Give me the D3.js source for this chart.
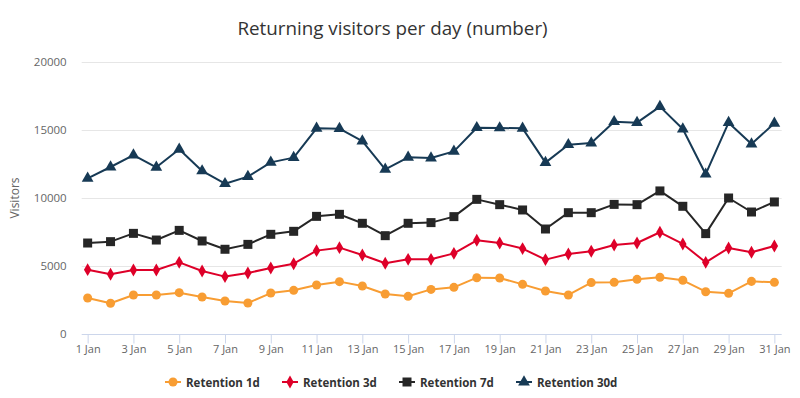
<!DOCTYPE html>
<html>
<head>
<meta charset="utf-8">
<script src="https://cdn.jsdelivr.net/npm/d3@7"></script>
<style>
  body { margin: 0; background: #fff; }
  svg { font-family: "Open Sans", "DejaVu Sans", sans-serif; }
</style>
</head>
<body>
<div id="chart"></div>
<script>
const days = d3.range(1, 32);
const tickDays = d3.range(1, 32, 2);
const yTicks = [0, 5000, 10000, 15000, 20000];

const retention1d = [2650, 2260, 2870, 2870, 3040, 2720, 2430, 2280, 3010, 3210,
  3600, 3850, 3530, 2940, 2770, 3280, 3430, 4140, 4120, 3650,
  3160, 2870, 3780, 3800, 4020, 4170, 3950, 3110, 2990, 3870, 3800];
const retention3d = [4730, 4390, 4710, 4710, 5270, 4630, 4220, 4490, 4850, 5170,
  6130, 6350, 5810, 5200, 5490, 5490, 5930, 6890, 6690, 6280,
  5470, 5880, 6080, 6540, 6690, 7480, 6620, 5270, 6320, 6010, 6470];
const retention7d = [6690, 6790, 7400, 6910, 7620, 6840, 6230, 6590, 7330, 7550,
  8650, 8800, 8140, 7230, 8140, 8190, 8630, 9900, 9510, 9120,
  7720, 8920, 8920, 9530, 9510, 10520, 9390, 7380, 10000, 8970, 9710];
const retention30d = [11450, 12280, 13160, 12260, 13580, 11990, 11050, 11570, 12620, 12970,
  15120, 15100, 14190, 12110, 12990, 12940, 13430, 15170, 15150, 15120,
  12600, 13920, 14040, 15610, 15540, 16720, 15070, 11750, 15540, 13970, 15490];

const series = [
  { name: "Retention 1d", values: retention1d, color: "#f89d33", symbol: d3.symbolCircle, size: 64 },
  { name: "Retention 3d", values: retention3d, color: "#de0029", symbol: d3.symbolDiamond, size: 48 },
  { name: "Retention 7d", values: retention7d, color: "#262626", symbol: d3.symbolSquare, size: 81 },
  { name: "Retention 30d", values: retention30d, color: "#173a55", symbol: d3.symbolTriangle, size: 60 }
];

const width = 800, height = 398;
const plot = { left: 81.7, right: 781.7, top: 62, bottom: 334 };

const svg = d3.select("#chart").append("svg")
  .attr("width", width)
  .attr("height", height);

const x = d3.scaleLinear().domain([0.74, 31.32]).range([plot.left, plot.right]);
const y = d3.scaleLinear().domain([0, 20000]).range([plot.bottom, plot.top]);

/* title */
svg.append("text")
  .attr("x", 392.5)
  .attr("y", 35)
  .attr("text-anchor", "middle")
  .style("font-size", "18.8px")
  .style("fill", "#333")
  .text("Returning visitors per day (number)");

/* grid lines */
svg.append("g")
  .selectAll("line")
  .data(yTicks.slice(1))
  .enter().append("line")
  .attr("x1", plot.left)
  .attr("x2", plot.right)
  .attr("y1", d => Math.round(y(d)) + 0.5)
  .attr("y2", d => Math.round(y(d)) + 0.5)
  .attr("stroke", "#e6e6e6")
  .attr("stroke-width", 1);

/* y axis labels */
const yAxis = svg.append("g")
  .attr("transform", `translate(${plot.left},0)`)
  .call(d3.axisLeft(y).tickValues(yTicks).tickSize(0).tickPadding(15).tickFormat(d3.format("d")));
yAxis.select(".domain").remove();
yAxis.selectAll("text")
  .style("font-size", "11.5px")
  .style("fill", "#666")
  .style("font-family", "\"Open Sans\", sans-serif");

svg.append("text")
  .attr("transform", `translate(19,${(plot.top + plot.bottom) / 2}) rotate(-90)`)
  .attr("text-anchor", "middle")
  .style("font-size", "12px")
  .style("fill", "#666")
  .text("Visitors");

/* x axis */
const xAxis = svg.append("g")
  .attr("transform", `translate(0,${Math.round(plot.bottom) + 0.5})`)
  .call(d3.axisBottom(x).tickValues(tickDays).tickSize(9).tickPadding(2).tickFormat(d => d + " Jan"));
xAxis.select(".domain")
  .attr("d", `M${plot.left},0H${plot.right}`)
  .attr("stroke", "#ccd6eb");
xAxis.selectAll(".tick line").attr("stroke", "#ccd6eb");
xAxis.selectAll("text")
  .style("font-size", "11px")
  .style("fill", "#666")
  .style("font-family", "\"Open Sans\", sans-serif");

/* series */
const line = d3.line()
  .x((d, i) => x(days[i]))
  .y(d => y(d));

series.forEach(s => {
  const g = svg.append("g");
  g.append("path")
    .datum(s.values)
    .attr("d", line)
    .attr("fill", "none")
    .attr("stroke", s.color)
    .attr("stroke-width", 2)
    .attr("stroke-linejoin", "round");

  g.selectAll("path.marker")
    .data(s.values)
    .enter().append("path")
    .attr("class", "marker")
    .attr("d", d3.symbol().type(s.symbol).size(s.size))
    .attr("transform", (d, i) => `translate(${x(days[i])},${y(d)})`)
    .attr("fill", s.color);
});

/* legend */
const legendX = [165, 282, 399, 516];
const legend = svg.append("g").attr("transform", "translate(0,382)");
series.forEach((s, i) => {
  const item = legend.append("g").attr("transform", `translate(${legendX[i]},0)`);
  item.append("line")
    .attr("x1", 0).attr("x2", 16)
    .attr("y1", 0).attr("y2", 0)
    .attr("stroke", s.color)
    .attr("stroke-width", 2);
  item.append("path")
    .attr("d", d3.symbol().type(s.symbol).size(s.size))
    .attr("transform", "translate(8,0)")
    .attr("fill", s.color);
  item.append("text")
    .attr("x", 21)
    .attr("y", 4.5)
    .style("font-size", "11.5px")
    .style("font-weight", "bold")
    .style("fill", "#333")
    .text(s.name);
});
</script>
</body>
</html>
